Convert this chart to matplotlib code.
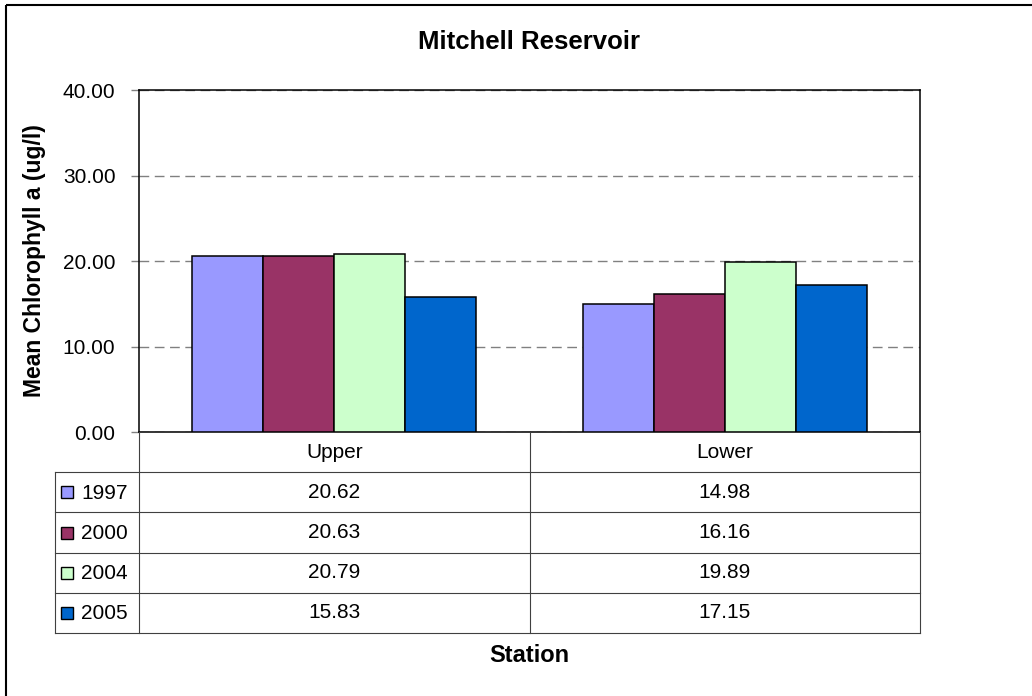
import matplotlib
matplotlib.use("Agg")
import matplotlib.pyplot as plt
from matplotlib.patches import Rectangle
from matplotlib.ticker import FormatStrFormatter
import numpy as np

plt.rcParams["font.family"] = ["Liberation Sans", "DejaVu Sans"]

# mean chlorophyll a (ug/l) by station and sampling year
stations = ["Upper", "Lower"]
years = ["1997", "2000", "2004", "2005"]
chl_1997 = [20.62, 14.98]
chl_2000 = [20.63, 16.16]
chl_2004 = [20.79, 19.89]
chl_2005 = [15.83, 17.15]
series = [chl_1997, chl_2000, chl_2004, chl_2005]
colors = ["#9999FF", "#993366", "#CCFFCC", "#0066CC"]

W, H = 1032, 696
fig = plt.figure(figsize=(W / 100, H / 100), dpi=100)


def box(l, t, r, b):
    # pixel box -> figure fraction rect
    return [l / W, 1 - b / H, (r - l) / W, (b - t) / H]


PL, PT, PR, PB = 139, 90, 920, 432
ax = fig.add_axes(box(PL, PT, PR, PB))

x = np.arange(len(stations))
bw = 1 / 5.5  # excel gap width 150%
for i, (vals, c) in enumerate(zip(series, colors)):
    ax.bar(x + (i - 1.5) * bw, vals, bw, color=c, edgecolor="black",
           linewidth=1.1, zorder=3)

ax.set_xlim(-0.5, len(stations) - 0.5)
ax.set_ylim(0, 40)
ax.set_yticks(np.arange(0, 41, 10))
ax.yaxis.set_major_formatter(FormatStrFormatter("%.2f"))
ax.set_xticks([])
ax.tick_params(axis="y", direction="out", length=6, width=1,
               color="#808080", pad=11, labelsize=15)
ax.set_axisbelow(True)
ax.yaxis.grid(True, color="#808080", linewidth=1, linestyle=(0, (7, 4)))
for s in ax.spines.values():
    s.set_color("black")
    s.set_linewidth(1.1)

# overlay in pixel coordinates for the data table and outer frame
ov = fig.add_axes([0, 0, 1, 1], zorder=5)
ov.set_xlim(0, W)
ov.set_ylim(H, 0)
ov.axis("off")
ov.patch.set_alpha(0)

ov.add_patch(Rectangle((6, 5), 1200, 900, fill=False, edgecolor="black",
                       linewidth=1.5, clip_on=False))

row_h = (633 - PB) / 5
key_left = 55
lc = "#404040"
col_x = [ax.transData.transform((i, 0))[0] for i in x]
mid_x = [ax.transData.transform((i + 0.5, 0))[0] for i in x[:-1]]

for k in range(1, 6):
    yk = PB + k * row_h
    ov.plot([key_left, PR], [yk, yk], color=lc, lw=0.8)
for xv in [PL] + mid_x + [PR]:
    ov.plot([xv, xv], [PB, PB + 5 * row_h], color=lc, lw=0.8)
ov.plot([key_left, key_left], [PB + row_h, PB + 5 * row_h], color=lc, lw=0.8)

for cx, name in zip(col_x, stations):
    ov.text(cx, PB + 0.5 * row_h, name, ha="center", va="center", fontsize=15)

for r, (yr, vals, c) in enumerate(zip(years, series, colors)):
    yc = PB + (r + 1.5) * row_h
    ov.add_patch(Rectangle((60.5, yc - 6), 12, 12, facecolor=c,
                           edgecolor="black", linewidth=1))
    ov.text(81, yc + 1, yr, ha="left", va="center", fontsize=15)
    for cx, v in zip(col_x, vals):
        ov.text(cx, yc, f"{v:.2f}", ha="center", va="center", fontsize=15)

fig.text(529 / W, 1 - 42 / H, "Mitchell Reservoir", ha="center", va="center",
         fontsize=18.5, fontweight="bold")
fig.text(35 / W, 1 - 261 / H, "Mean Chlorophyll a (ug/l)", ha="center",
         va="center", rotation=90, fontsize=16.5, fontweight="bold")
fig.text(529 / W, 1 - 656 / H, "Station", ha="center", va="center",
         fontsize=17, fontweight="bold")

fig.savefig("out.png", dpi=100)
